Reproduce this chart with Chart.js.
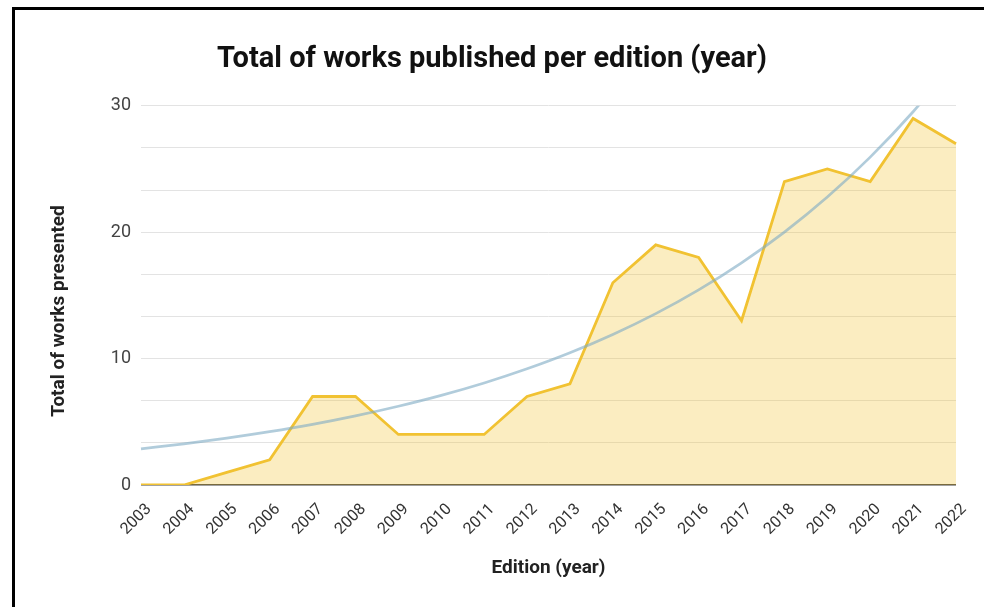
<!DOCTYPE html>
<html>
<head>
<meta charset="utf-8">
<script src="https://cdn.jsdelivr.net/npm/chart.js@4.4.1/dist/chart.umd.min.js"></script>
<style>
  html, body { margin: 0; padding: 0; background: #fff; }
  #wrap { position: relative; width: 984px; height: 607px; overflow: hidden; }
  #frame { position: absolute; left: 12px; top: 7px; width: 1000px; height: 700px;
           border-left: 3px solid #000; border-top: 3px solid #000; box-sizing: border-box; }
  #c { position: absolute; left: 0; top: 0; }
</style>
</head>
<body>
<div id="wrap">
  <div id="frame"></div>
  <canvas id="c" width="984" height="607"></canvas>
</div>
<script>
const years = ['2003','2004','2005','2006','2007','2008','2009','2010','2011','2012',
               '2013','2014','2015','2016','2017','2018','2019','2020','2021','2022'];
const works = [0, 0, 1, 2, 7, 7, 4, 4, 4, 7, 8, 16, 19, 18, 13, 24, 25, 24, 29, 27];
const trend = [2.86, 3.26, 3.71, 4.22, 4.80, 5.47, 6.23, 7.09, 8.07, 9.19,
               10.46, 11.91, 13.56, 15.44, 17.58, 20.01, 22.78, 25.94, 29.53, 33.62];
const yMajorLabels = [0, 10, 20, 30];

const titleText = 'Total of works published per edition (year)';
const yTitleText = 'Total of works presented';
const xTitleText = 'Edition (year)';

const FONT = 'Roboto, "Liberation Sans", Arial, sans-serif';

const yTitlePlugin = {
  id: 'yTitle',
  afterDraw(chart) {
    const ctx = chart.ctx;
    ctx.save();
    ctx.translate(59, 311);
    ctx.rotate(-Math.PI / 2);
    ctx.font = 'bold 19px ' + FONT;
    ctx.fillStyle = '#222';
    ctx.textAlign = 'center';
    ctx.textBaseline = 'middle';
    ctx.fillText(yTitleText, 0, 0);
    ctx.restore();
  }
};

new Chart(document.getElementById('c'), {
  type: 'line',
  data: {
    labels: years,
    datasets: [
      {
        label: 'Trend',
        data: trend,
        borderColor: 'rgba(125,170,195,0.6)',
        borderWidth: 2.7,
        fill: false,
        pointRadius: 0,
        cubicInterpolationMode: 'monotone',
        order: 0
      },
      {
        label: 'Works',
        data: works,
        borderColor: '#f1c232',
        backgroundColor: 'rgba(241,194,50,0.3)',
        borderWidth: 2.8,
        fill: 'origin',
        pointRadius: 0,
        tension: 0,
        order: 1
      }
    ]
  },
  options: {
    responsive: false,
    animation: false,
    layout: { padding: { left: 28, right: 28, top: 0, bottom: 0 } },
    plugins: {
      legend: { display: false },
      tooltip: { enabled: false },
      title: {
        display: true,
        text: titleText,
        color: '#111',
        font: { family: FONT, size: 29, weight: 'bold' },
        padding: { top: 42, bottom: 29 }
      }
    },
    scales: {
      x: {
        grid: { display: false },
        border: { display: false },
        ticks: {
          autoSkip: false,
          minRotation: 45,
          maxRotation: 45,
          color: '#333',
          padding: 7,
          labelOffset: 8,
          font: { family: FONT, size: 16 }
        },
        title: {
          display: true,
          text: xTitleText,
          color: '#222',
          font: { family: FONT, size: 19, weight: 'bold' },
          padding: { top: 0, bottom: 27 }
        },
        afterFit(scale) { scale.height = 122; }
      },
      y: {
        min: 0,
        max: 30,
        border: { display: false },
        grid: {
          drawTicks: false,
          color: (c) => (c.tick && c.tick.value === 0) ? '#444' : '#e3e3e3',
          lineWidth: (c) => (c.tick && c.tick.value === 0) ? 1.5 : 1
        },
        ticks: {
          count: 10,
          padding: 10,
          color: '#444',
          font: { family: FONT, size: 18 },
          callback: (v) => {
            const r = Math.round(v);
            return (Math.abs(v - r) < 1e-6 && yMajorLabels.includes(r)) ? String(r) : '';
          }
        },
        afterFit(scale) { scale.width = 113; }
      }
    }
  },
  plugins: [yTitlePlugin]
});
</script>
</body>
</html>
